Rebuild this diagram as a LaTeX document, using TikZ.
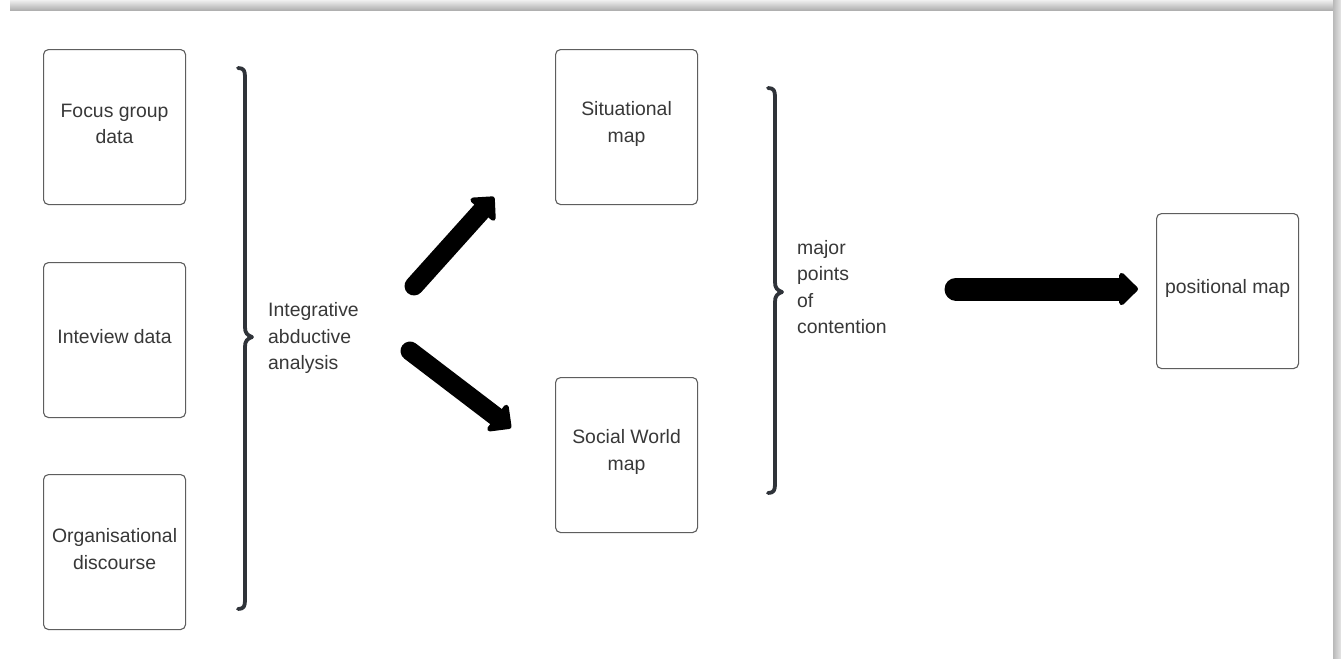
\documentclass[tikz,border=0pt]{standalone}
\usepackage{fontspec}
\setmainfont{Liberation Sans}
\usetikzlibrary{arrows.meta}
\definecolor{txt}{HTML}{383838}
\definecolor{brd}{HTML}{5E5E5E}
\definecolor{brc}{HTML}{2F3339}
\begin{document}
\begin{tikzpicture}[x=1pt,y=-1pt,
  lbl/.style={font=\fontsize{19.4}{26.5}\selectfont, text=txt},
  box/.style={draw=brd, line width=1.1pt, rounded corners=5pt,
    minimum width=142pt, minimum height=155pt, anchor=north west,
    inner sep=0pt,
    label={[lbl, align=center, inner sep=0pt, yshift=3pt]center:#1}},
  side/.style={lbl, anchor=west, align=left, inner sep=0pt},
  bracket/.style={draw=brc, line width=3.8pt, line cap=round, line join=round},
  fat/.style={line width=#1, line cap=round,
    -{Triangle[round, length=20pt, width=38pt]}},
]
\useasboundingbox (0,0) rectangle (1341,659);
\fill[white] (0,0) rectangle (1341,659);
% page shadow
\shade[top color=gray!12, bottom color=gray!62] (10,0) rectangle (1341,10);
\shade[left color=gray!55, right color=gray!20] (1333,0) rectangle (1341,658);

% boxes
\node[box={Focus group\\data}] (fg) at (43,49) {};
\node[box={Inteview data}] (iv) at (43,262) {};
\node[box={Organisational\\discourse}] (od) at (43,474) {};
\node[box={Situational\\map}] (sm) at (555,49) {};
\node[box={Social World\\map}] (sw) at (555,377) {};
\node[box={positional map}] (pm) at (1156,213) {};

% labels
\node[side] (iaa) at (268,338) {Integrative\\abductive\\analysis};
\node[side] (mpc) at (797,287) {major\\points\\of\\contention};

% braces
\draw[bracket] (238,68) .. controls (244,68) and (245,71) .. (245,77)
  -- (245,327) .. controls (245,333) and (247,335) .. (252,337)
  .. controls (247,339) and (245,341) .. (245,347)
  -- (245,600) .. controls (245,606) and (244,609) .. (238,609);
\draw[bracket] (768,88) .. controls (774,88) and (775,91) .. (775,97)
  -- (775,282) .. controls (775,288) and (777,290) .. (782,292)
  .. controls (777,294) and (775,296) .. (775,302)
  -- (775,484) .. controls (775,490) and (774,493) .. (768,493);

% arrows
\coordinate (u0) at (414,286);
\coordinate (u1) at (494,197);
\coordinate (d0) at (410,351);
\coordinate (d1) at (511,428);
\coordinate (h0) at (956,289);
\coordinate (h1) at (1138,289);
\draw[fat=19pt] (u0) -- (u1);
\draw[fat=19pt] (d0) -- (d1);
\draw[fat=23pt] (h0) -- (h1);
\end{tikzpicture}
\end{document}
